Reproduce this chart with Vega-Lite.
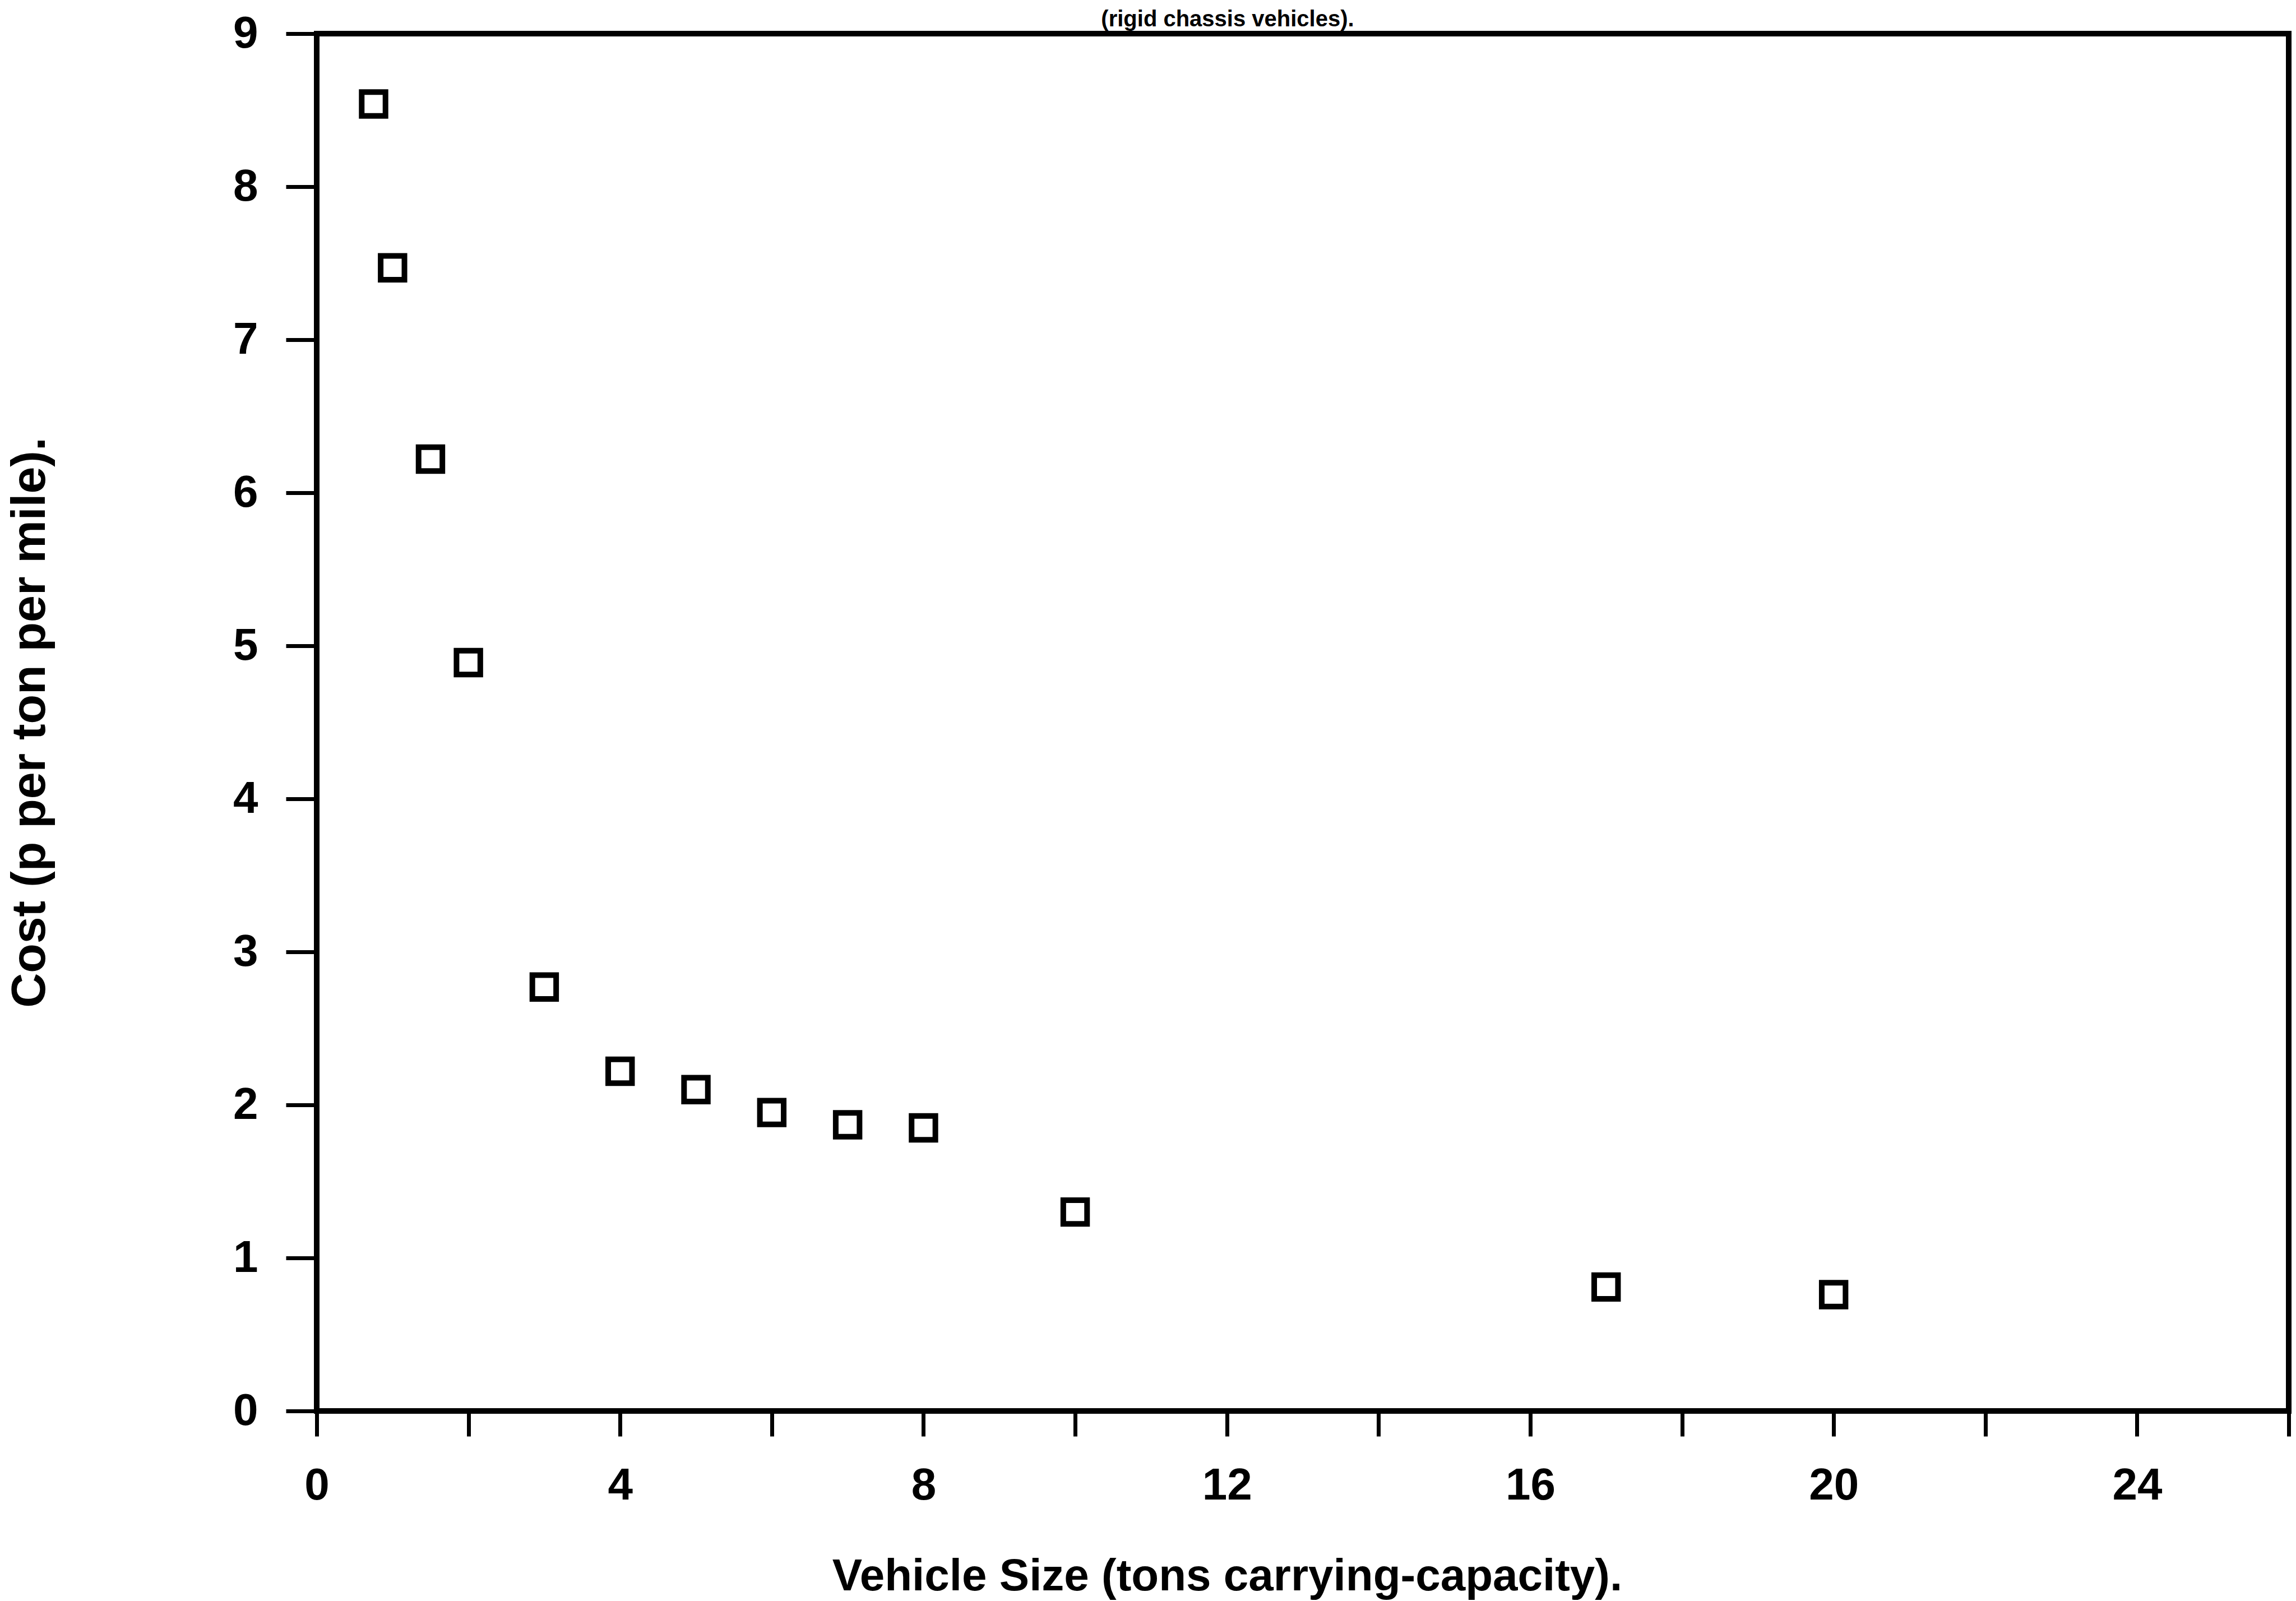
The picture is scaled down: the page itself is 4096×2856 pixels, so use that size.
{
  "$schema": "https://vega.github.io/schema/vega-lite/v6.json",
  "width": 3518,
  "height": 2457,
  "autosize": {"type": "none"},
  "padding": {"left": 565, "top": 60, "right": 13, "bottom": 339},
  "background": "white",
  "title": {
    "text": "(rigid chassis vehicles).",
    "anchor": "middle",
    "baseline": "alphabetic",
    "offset": 0,
    "dy": 67,
    "dx": -134,
    "font": "Liberation Sans",
    "fontWeight": "bold",
    "fontSize": 40,
    "color": "black"
  },
  "config": {
    "view": {"stroke": "black", "strokeWidth": 10},
    "axis": {
      "grid": false,
      "domain": false,
      "tickColor": "black",
      "tickWidth": 7,
      "labelColor": "black",
      "labelFont": "Liberation Sans",
      "labelFontWeight": "bold",
      "labelFontSize": 80,
      "labelFlush": false,
      "labelOverlap": false,
      "titleColor": "black",
      "titleFont": "Liberation Sans",
      "titleFontWeight": "bold"
    }
  },
  "data": {
    "values": [
      {"size": 0.75, "cost": 8.54},
      {"size": 1, "cost": 7.47},
      {"size": 1.5, "cost": 6.22},
      {"size": 2, "cost": 4.89},
      {"size": 3, "cost": 2.77},
      {"size": 4, "cost": 2.22},
      {"size": 5, "cost": 2.10},
      {"size": 6, "cost": 1.95},
      {"size": 7, "cost": 1.87},
      {"size": 8, "cost": 1.85},
      {"size": 10, "cost": 1.30},
      {"size": 17, "cost": 0.81},
      {"size": 20, "cost": 0.76}
    ]
  },
  "mark": {
    "type": "point",
    "shape": "square",
    "filled": false,
    "size": 1800,
    "strokeWidth": 10,
    "color": "black",
    "opacity": 1
  },
  "encoding": {
    "x": {
      "field": "size",
      "type": "quantitative",
      "scale": {"domain": [0, 26], "nice": false, "zero": false},
      "axis": {
        "values": [0, 2, 4, 6, 8, 10, 12, 14, 16, 18, 20, 22, 24, 26],
        "labelExpr": "datum.value % 4 === 0 && datum.value < 26 ? datum.label : ''",
        "tickSize": 45,
        "labelPadding": 49,
        "title": "Vehicle Size (tons carrying-capacity).",
        "titleFontSize": 80,
        "titlePadding": 83,
        "titleX": 1624
      }
    },
    "y": {
      "field": "cost",
      "type": "quantitative",
      "scale": {"domain": [0, 9], "nice": false},
      "axis": {
        "values": [0, 1, 2, 3, 4, 5, 6, 7, 8, 9],
        "tickSize": 55,
        "labelPadding": 50,
        "title": "Cost (p per ton per mile).",
        "titleFontSize": 86,
        "titlePadding": 318
      }
    }
  }
}
